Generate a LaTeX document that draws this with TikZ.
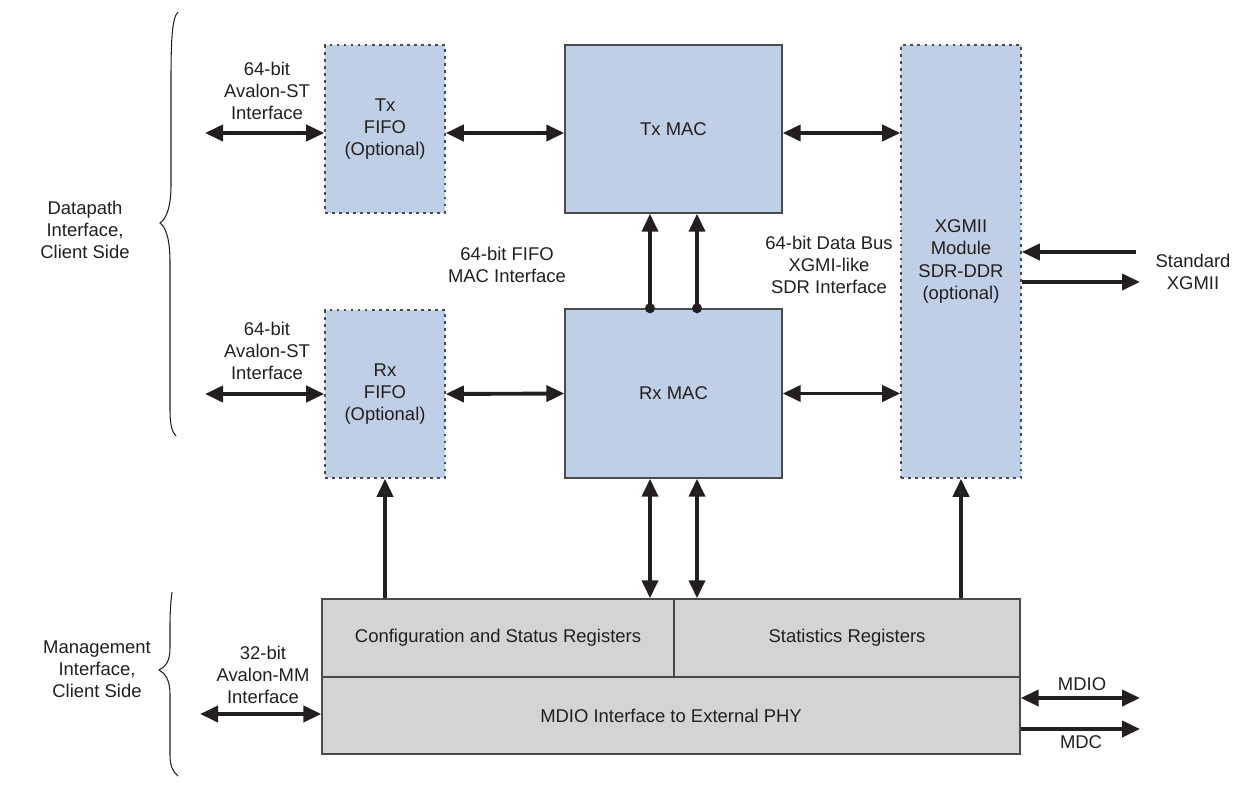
\documentclass[tikz,border=0pt]{standalone}
\usepackage{fontspec}
\setmainfont{Liberation Sans}
\usetikzlibrary{arrows.meta,calc}
\definecolor{blockblue}{HTML}{BFCFE5}
\definecolor{blockgray}{HTML}{D3D4D6}
\definecolor{edgegray}{HTML}{4A4A4A}
\definecolor{ink}{HTML}{231F20}
\begin{document}
\begin{tikzpicture}[x=0.02cm,y=-0.02cm,
  every node/.style={font=\fontsize{10.5pt}{12.6pt}\selectfont, text=ink, align=center, inner sep=0pt},
  solidblock/.style={draw=edgegray, line width=0.85pt, fill=blockblue},
  optblock/.style={draw=edgegray, line width=0.9pt, fill=blockblue, dash pattern=on 1.6pt off 2.4pt},
  regblock/.style={draw=edgegray, line width=0.85pt, fill=blockgray},
  bus/.style={draw=ink, line width=2.2pt},
  both/.style={bus, {Triangle[length=0.36cm, width=0.32cm]}-{Triangle[length=0.36cm, width=0.32cm]}},
  fwd/.style={bus, -{Triangle[length=0.36cm, width=0.32cm]}},
  lbl/.style={},
  brace/.style={draw=ink, line width=0.6pt},
  txrow/.style={yshift=-0.08cm}
]
\useasboundingbox (0,0) rectangle (1260,791);

% blocks
\node[optblock, minimum width=2.4cm, minimum height=3.36cm] (txfifo) at (385,129) {Tx\\FIFO\\(Optional)};
\node[solidblock, minimum width=4.34cm, minimum height=3.36cm] (txmac) at (673.5,129) {Tx MAC};
\node[optblock, minimum width=2.4cm, minimum height=3.36cm] (rxfifo) at (385,394) {Rx\\FIFO\\(Optional)};
\node[solidblock, minimum width=4.34cm, minimum height=3.38cm] (rxmac) at (673.5,393.5) {Rx MAC};
\node[optblock, minimum width=2.4cm, minimum height=8.66cm] (xgmii) at (961,261.5) {XGMII\\Module\\SDR-DDR\\(optional)};
\node[regblock, minimum width=7.04cm, minimum height=1.56cm] (csr) at (498,638) {Configuration and Status Registers};
\node[regblock, minimum width=6.92cm, minimum height=1.56cm] (stats) at (847,638) {Statistics Registers};
\node[regblock, minimum width=13.96cm, minimum height=1.54cm] (mdio) at (671,715.5) {MDIO Interface to External PHY};

% free ends of the external buses
\coordinate (txst) at (205,133);
\coordinate (rxst) at (205,394);
\coordinate (mmst) at (200,714);
\coordinate (xgin) at (1136,252);
\coordinate (xgout) at (1140,282);
\coordinate (mdioend) at (1140,698);
\coordinate (mdcend) at (1140,729);

% datapath buses
\draw[both] (txst) -- (txst -| txfifo.west);
\draw[both] ([txrow]txfifo.east) -- ([txrow]txmac.west);
\draw[both] ([txrow]txmac.east) -- ([txrow]xgmii.west |- txmac.east);
\draw[both] (rxst) -- (rxfifo.west);
\draw[both] (rxfifo.east) -- (rxmac.west);
\draw[both] (rxmac.east) -- (xgmii.west |- rxmac.east);

% Rx MAC to Tx MAC
\foreach \dx/\nm in {-23.5/a, 23.5/b} {
  \coordinate (up\nm) at ($(rxmac.north)+(\dx,0)$);
  \draw[fwd] (up\nm) -- (up\nm |- txmac.south);
  \fill[ink] (up\nm) circle (0.1cm);
}

% Rx MAC to the register blocks
\coordinate (dna) at ($(rxmac.south)+(-23.5,0)$);
\coordinate (dnb) at ($(rxmac.south)+(23.5,0)$);
\draw[both] (dna) -- (dna |- csr.north);
\draw[both] (dnb) -- (dnb |- stats.north);

% registers to FIFO and XGMII module
\draw[fwd] (csr.north -| rxfifo.south) -- (rxfifo.south);
\draw[fwd] (stats.north -| xgmii.south) -- (xgmii.south);

% standard XGMII side
\draw[fwd] (xgin) -- (xgmii.east |- xgin);
\draw[fwd] (xgmii.east |- xgout) -- (xgout);

% management buses
\draw[both] (mmst) -- (mdio.west |- mmst);
\draw[both] (mdio.east |- mdioend) -- (mdioend);
\draw[fwd] (mdio.east |- mdcend) -- (mdcend);

% labels
\node[lbl] (lbltx) at (267,91) {64-bit\\Avalon-ST\\Interface};
\node[lbl] (lblrx) at (267,351) {64-bit\\Avalon-ST\\Interface};
\node[lbl] (lblfifo) at (507,265) {64-bit FIFO\\MAC Interface};
\node[lbl] (lblxg) at (829,265) {64-bit Data Bus\\XGMI-like\\SDR Interface};
\node[lbl] (lblstd) at (1193,272) {Standard\\XGMII};
\node[lbl] (lblmm) at (263,675) {32-bit\\Avalon-MM\\Interface};
\node[lbl] (lblmdio) at (1082,684) {MDIO};
\node[lbl] (lblmdc) at (1081,742) {MDC};
\node[lbl] (lbldp) at (85,230) {Datapath\\Interface,\\Client Side};
\node[lbl] (lblmg) at (97,669) {Management\\Interface,\\Client Side};

% braces
\draw[brace] (178,12) .. controls (172,18) and (171,40) .. (171,80)
  -- (171,185) .. controls (171,208) and (166,219) .. (160,223)
  .. controls (166,227) and (170,240) .. (170,262)
  -- (170,410) .. controls (170,425) and (172,432) .. (176,436);
\draw[brace] (172,592) .. controls (171,600) and (170,610) .. (170,625)
  -- (170,648) .. controls (170,662) and (165,667) .. (159,670)
  .. controls (165,673) and (170,680) .. (170,694)
  -- (170,755) .. controls (170,766) and (173,772) .. (178,776);
\end{tikzpicture}
\end{document}
